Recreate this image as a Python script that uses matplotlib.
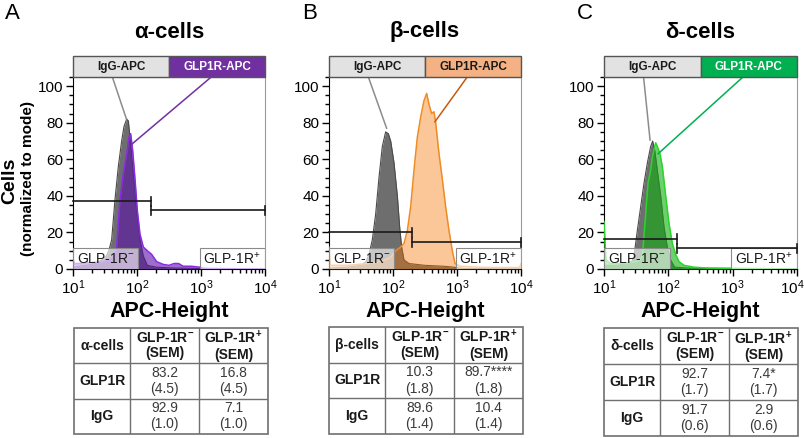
import numpy as np
import matplotlib
matplotlib.use('Agg')
import matplotlib.pyplot as plt
from matplotlib import font_manager as fm
from matplotlib.patches import Rectangle
from matplotlib.ticker import LogLocator, FuncFormatter, MultipleLocator, NullFormatter
import matplotlib.transforms as mtrans

names = {f.name for f in fm.fontManager.ttflist}
NARROW = 'Liberation Sans Narrow' if 'Liberation Sans Narrow' in names else 'Liberation Sans'
SANS = 'Liberation Sans'
plt.rcParams['font.family'] = [NARROW, 'DejaVu Sans']
plt.rcParams['mathtext.default'] = 'regular'

# ---------------- data ----------------
cell_types = ['α-cells', 'β-cells', 'δ-cells']
panel_letters = ['A', 'B', 'C']

# histograms: x = log10(APC-Height), y = cells (normalized to mode)
igg_logx_A = [1.0, 1.2, 1.35, 1.45, 1.52, 1.56, 1.604, 1.656, 1.708, 1.76, 1.797, 1.839, 1.865, 1.89,
              1.943, 1.995, 2.047, 2.099, 2.161, 2.3, 2.6, 3.0, 4.0]
igg_y_A = [1, 2, 3, 5, 7, 10, 16, 38, 56, 70, 78, 82, 81, 72, 52, 32, 16, 7, 2, 1, 0.5, 0.3, 0]
glp_logx_A = [1.0, 1.02, 1.1, 1.3, 1.45, 1.55, 1.63, 1.682, 1.734, 1.786, 1.839, 1.875, 1.901, 1.932,
              1.969, 2.005, 2.047, 2.099, 2.161, 2.229, 2.307, 2.411, 2.5, 2.58, 2.65, 2.72, 2.85,
              2.98, 3.05, 4.0]
glp_y_A = [6, 3, 3, 3.5, 4, 5, 7, 12, 38, 52, 63, 72, 74, 65, 49, 32, 19, 12, 10, 8, 4, 2.5, 2, 3, 3,
           1.5, 1.5, 1, 0.3, 0]

igg_logx_B = [1.0, 1.3, 1.5, 1.58, 1.625, 1.677, 1.729, 1.781, 1.833, 1.885, 1.927, 1.964, 2.016,
              2.068, 2.104, 2.135, 2.172, 2.25, 2.5, 2.8, 2.95, 3.1, 4.0]
igg_y_B = [0.5, 1, 2, 4, 8, 16, 30, 50, 67, 75, 74, 70, 58, 40, 23, 12, 5, 3, 2, 1.5, 1, 0.3, 0]
glp_logx_B = [1.0, 1.02, 1.3, 1.6, 1.8, 1.95, 2.0, 2.042, 2.12, 2.172, 2.224, 2.276, 2.328, 2.38,
              2.432, 2.484, 2.526, 2.5625, 2.604, 2.64, 2.667, 2.719, 2.771, 2.823, 2.875, 2.927,
              2.969, 3.05, 3.3, 3.6, 3.98, 4.0]
glp_y_B = [12, 2, 2, 3, 4, 6, 8, 10, 12, 14, 21, 34, 54, 72, 83, 92, 96, 90, 85, 86, 80, 63, 49, 34,
           21, 10, 3, 1.5, 1, 0.8, 0.8, 3]

igg_logx_C = [1.0, 1.2, 1.35, 1.43, 1.466, 1.518, 1.57, 1.622, 1.674, 1.725, 1.756, 1.788, 1.829,
              1.881, 1.933, 1.984, 2.036, 2.098, 2.3, 4.0]
igg_y_C = [2, 2, 3, 4, 7, 21, 34, 47, 58, 67, 70, 65, 54, 40, 23, 12, 5, 1, 0.5, 0]
glp_logx_C = [1.0, 1.03, 1.1, 1.3, 1.5, 1.56, 1.596, 1.648, 1.684, 1.725, 1.751, 1.777, 1.803, 1.829,
              1.87, 1.907, 1.959, 2.01, 2.062, 2.114, 2.166, 2.244, 2.399, 2.6, 4.0]
glp_y_C = [26, 5, 3, 3, 4, 5, 7, 30, 47, 54, 61, 65, 69, 67, 63, 56, 40, 25, 14, 8, 4, 2, 1, 0.5, 0]

# gate thresholds (APC-Height) separating GLP-1R- / GLP-1R+
gate_thresholds = [168, 195, 135]

# tables
table_rows = ['GLP1R', 'IgG']
neg_mean_A = [83.2, 92.9]; neg_sem_A = [4.5, 1.0]; pos_mean_A = [16.8, 7.1]; pos_sem_A = [4.5, 1.0]
neg_mean_B = [10.3, 89.6]; neg_sem_B = [1.8, 1.4]; pos_mean_B = [89.7, 10.4]; pos_sem_B = [1.8, 1.4]
neg_mean_C = [92.7, 91.7]; neg_sem_C = [1.7, 0.6]; pos_mean_C = [7.4, 2.9]; pos_sem_C = [1.7, 0.6]
pos_sig_A = ['', '']
pos_sig_B = ['****', '']
pos_sig_C = ['*', '']

# ---------------- layout / style ----------------
W, H = 805, 438
fig = plt.figure(figsize=(W / 100, H / 100), dpi=100)


def px_axes(l, t, r, b):
    return fig.add_axes([l / W, 1 - b / H, (r - l) / W, (b - t) / H])


panels = [
    dict(box=(73, 77, 265, 269), igg=(igg_logx_A, igg_y_A), glp=(glp_logx_A, glp_y_A),
         fill='#5a10a8', alpha=0.6, edge='#8a2be2', bar='#7030a0', bartext='white', call='#7030a0',
         gates=(37, 32), call_igg=(1.835, 82), call_glp=(1.91, 68),
         tab=(74, 328, 268, 434), tdata=(neg_mean_A, neg_sem_A, pos_mean_A, pos_sem_A, pos_sig_A)),
    dict(box=(329, 77, 521, 269), igg=(igg_logx_B, igg_y_B), glp=(glp_logx_B, glp_y_B),
         fill='#f77500', alpha=0.4, edge='#f08a24', bar='#f4b183', bartext='#1a1a1a', call='#c55a11',
         gates=(20, 14.5), call_igg=(1.90, 77), call_glp=(2.655, 80.5),
         tab=(329, 327, 523, 434), tdata=(neg_mean_B, neg_sem_B, pos_mean_B, pos_sem_B, pos_sig_B)),
    dict(box=(604, 77, 797, 269), igg=(igg_logx_C, igg_y_C), glp=(glp_logx_C, glp_y_C),
         fill='#10b010', alpha=0.6, edge='#2ad52a', bar='#00b050', bartext='white', call='#00b050',
         gates=(16.3, 11.3), call_igg=(1.716, 70.5), call_glp=(1.84, 63),
         tab=(604, 328, 798, 436), tdata=(neg_mean_C, neg_sem_C, pos_mean_C, pos_sem_C, pos_sig_C)),
]

YTOP = 105

for i, p in enumerate(panels):
    l, t, r, b = p['box']
    ax = px_axes(l, t, r, b)
    ax.set_xscale('log')
    ax.set_xlim(10, 1e4)
    ax.set_ylim(0, YTOP)

    gx = 10 ** np.array(p['igg'][0]); gy = np.array(p['igg'][1])
    cx = 10 ** np.array(p['glp'][0]); cy = np.array(p['glp'][1])
    ax.fill_between(gx, gy, color='#6e6e6e', lw=0, zorder=2)
    ax.plot(gx, gy, color='#4a4a4a', lw=0.8, zorder=2.1)
    ax.fill_between(cx, cy, color=p['fill'], alpha=p['alpha'], lw=0, zorder=3)
    ax.plot(cx, cy, color=p['edge'], lw=1.1, zorder=3.1)

    # gate label boxes (semi transparent)
    for x0, x1, lab in [(10, 10 ** 2.02, r'GLP-1R$^{-}$'), (10 ** 2.98, 10 ** 3.995, r'GLP-1R$^{+}$')]:
        ax.add_patch(Rectangle((x0, 0.2), x1 - x0, 11.2, facecolor='white', alpha=0.62,
                               edgecolor='none', zorder=4))
        ax.add_patch(Rectangle((x0, 0.2), x1 - x0, 11.2, facecolor='none',
                               edgecolor='#8a8a8a', lw=0.8, zorder=4.1))
        ax.text(np.sqrt(x0 * x1), 5.6, lab, ha='center', va='center', fontsize=10,
                family=[SANS, 'DejaVu Sans'], color='#1a1a1a', zorder=5)

    # gates
    thr = gate_thresholds[i]
    yl, yr = p['gates']
    ax.plot([10, thr], [yl, yl], color='#1a1a1a', lw=1.2, zorder=6, clip_on=False)
    ax.plot([thr, thr], [yl - 2.6, yl + 2.6], color='#1a1a1a', lw=1.2, zorder=6)
    ax.plot([thr, 1e4], [yr, yr], color='#1a1a1a', lw=1.2, zorder=6, clip_on=False)
    ax.plot([thr, thr], [yr - 2.6, yr + 2.6], color='#1a1a1a', lw=1.2, zorder=6)
    ax.plot([1e4, 1e4], [yr - 2.6, yr + 2.6], color='#1a1a1a', lw=1.2, zorder=6, clip_on=False)

    # callout lines from label bar
    tr = ax.get_yaxis_transform()
    for x0, (lx, ly), col in [(0.205, p['call_igg'], '#8c8c8c'), (0.72, p['call_glp'], p['call'])]:
        ax.plot([x0, (lx - 1) / 3], [YTOP, ly], transform=tr, color=col, lw=1.1, zorder=7,
                clip_on=False)

    # label bar
    ax.add_patch(Rectangle((0, 1), 0.5, 0.108, transform=ax.transAxes, clip_on=False,
                           facecolor='#e2e2e2', edgecolor='#555555', lw=1, zorder=8))
    ax.add_patch(Rectangle((0.5, 1), 0.5, 0.108, transform=ax.transAxes, clip_on=False,
                           facecolor=p['bar'], edgecolor='#555555', lw=1, zorder=8))
    ax.text(0.25, 1.054, 'IgG-APC', transform=ax.transAxes, ha='center', va='center',
            fontsize=8.5, fontweight='bold', family=SANS, color='#1a1a1a', zorder=9)
    ax.text(0.75, 1.054, 'GLP1R-APC', transform=ax.transAxes, ha='center', va='center',
            fontsize=8.5, fontweight='bold', family=SANS, color=p['bartext'], zorder=9)

    # axes styling
    for s in ['top', 'right']:
        ax.spines[s].set_color('#9a9a9a')
    for s in ['left', 'bottom']:
        ax.spines[s].set_color('black')
    ax.yaxis.set_major_locator(MultipleLocator(20))
    ax.yaxis.set_minor_locator(MultipleLocator(5))
    ax.xaxis.set_major_locator(LogLocator(base=10, numticks=10))
    ax.xaxis.set_minor_locator(LogLocator(base=10, subs=np.arange(2, 10), numticks=10))
    ax.xaxis.set_major_formatter(FuncFormatter(lambda v, pos: r'$10^{%d}$' % round(np.log10(v))))
    ax.xaxis.set_minor_formatter(NullFormatter())
    ax.set_yticks(range(0, 101, 20))
    ax.tick_params(which='major', direction='out', length=5, width=1, labelsize=11, pad=2)
    ax.tick_params(which='minor', direction='out', length=3, width=1)

    if i == 2:
        fig.canvas.draw()
        for lab in ax.get_xticklabels():
            if lab.get_text().endswith('{4}$'):
                lab.set_transform(lab.get_transform() +
                                  mtrans.ScaledTranslation(-5 / 100, 0, fig.dpi_scale_trans))

    # titles, letters, x label
    cxf = (l + r) / 2 / W
    fig.text(cxf, 1 - 32 / H, cell_types[i], ha='center', va='center', fontsize=16,
             fontweight='bold', family=[SANS, 'DejaVu Sans'])
    fig.text((l - 68) / W if i == 0 else (l - 27) / W, 1 - 3 / H, panel_letters[i], ha='left',
             va='top', fontsize=16, family=SANS)
    fig.text(cxf, 1 - 311 / H, 'APC-Height', ha='center', va='center', fontsize=15.5,
             fontweight='bold', family=NARROW)

    # table
    tl, tt, trr, tb = p['tab']
    tax = px_axes(tl, tt, trr, tb)
    tax.set_xlim(0, 1); tax.set_ylim(0, 1); tax.axis('off')
    cols = [0, 0.29, 0.645, 1]
    rows = [1, 0.667, 0.333, 0]
    lc = '#707070'
    tax.add_patch(Rectangle((0, 0), 1, 1, facecolor='white', edgecolor=lc, lw=1.2, clip_on=False))
    for c in cols[1:-1]:
        tax.plot([c, c], [0, 1], color=lc, lw=1)
    for rr in rows[1:-1]:
        tax.plot([0, 1], [rr, rr], color=lc, lw=1)
    cc = [(cols[k] + cols[k + 1]) / 2 for k in range(3)]
    rc = [(rows[k] + rows[k + 1]) / 2 for k in range(3)]
    bold_kw = dict(ha='center', va='center', fontsize=10, fontweight='bold',
                   family=[NARROW, 'DejaVu Sans'], color='#1a1a1a', linespacing=1.15)
    tax.text(cc[0], rc[0], cell_types[i], **bold_kw)
    tax.text(cc[1], rc[0], 'GLP-1R$^{-}$\n(SEM)', **bold_kw)
    tax.text(cc[2], rc[0], 'GLP-1R$^{+}$\n(SEM)', **bold_kw)
    nm, ns, pm, ps, sig = p['tdata']
    for k, rowname in enumerate(table_rows):
        tax.text(cc[0], rc[k + 1], rowname, **bold_kw)
        val_kw = dict(ha='center', va='center', fontsize=10, family=NARROW, color='#3a3a3a',
                      linespacing=1.2)
        tax.text(cc[1], rc[k + 1], f'{nm[k]:.1f}\n({ns[k]:.1f})', **val_kw)
        tax.text(cc[2], rc[k + 1], f'{pm[k]:.1f}{sig[k]}\n({ps[k]:.1f})', **val_kw)

# y-axis label
fig.text(10 / W, 1 - 181 / H, 'Cells', rotation=90, ha='center', va='center', fontsize=14,
         fontweight='bold', family=SANS)
fig.text(28 / W, 1 - 179 / H, '(normalized to mode)', rotation=90, ha='center', va='center',
         fontsize=11, fontweight='bold', family=SANS)

fig.savefig('out.png', dpi=100)
